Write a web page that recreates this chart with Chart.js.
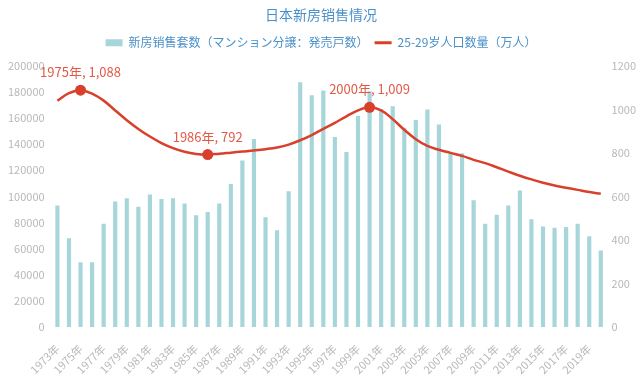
<!DOCTYPE html>
<html>
<head>
<meta charset="utf-8">
<script src="https://cdn.jsdelivr.net/npm/chart.js@4.4.1/dist/chart.umd.min.js"></script>
<style>
  body { margin: 0; background: #fff; }
  #wrap { width: 641px; height: 389px; }
</style>
</head>
<body>
<div id="wrap"><canvas id="myChart"></canvas></div>
<script>
const years = [];
for (let y = 1973; y <= 2020; y++) years.push(y + '年');

// 新房销售套数 (マンション分譲: 発売戸数)
const sales = [
  93000, 68000, 49500, 49500, 79000, 96000, 98500, 92000, 101500, 98000,
  98500, 94500, 85500, 88000, 94500, 109500, 127500, 144000, 84000, 74000,
  104000, 187500, 177500, 181000, 145500, 134000, 161500, 180500, 167000, 169000,
  152500, 158500, 166500, 155000, 134000, 133000, 97000, 79000, 86000, 93000,
  104500, 82500, 77000, 76000, 76500, 79000, 69500, 58500
];

// 25-29岁人口数量 (万人)
const population = [
  1040, 1074, 1088, 1072, 1040, 995, 950, 910, 875, 845,
  822, 805, 795, 792, 796, 801, 806, 811, 817, 825,
  838, 858, 882, 910, 938, 968, 995, 1009, 995, 955,
  906, 863, 832, 814, 800, 786, 768, 753, 734, 714,
  695, 678, 663, 650, 640, 630, 620, 612
];

const highlightYears = ['1975年', '1986年', '2000年'];

const barColor = '#a6d6da';
const lineColor = '#d9402c';
const textBlue = '#4a90c8';
const axisGray = '#b8b8b8';
const fontFamily = '"Noto Sans CJK SC", "Noto Sans", sans-serif';

// extra room under the legend
const legendSpacer = {
  id: 'legendSpacer',
  beforeInit(chart) {
    const fit = chart.legend.fit;
    chart.legend.fit = function () {
      fit.bind(chart.legend)();
      this.height += 7;
    };
  }
};

const pointLabels = {
  id: 'pointLabels',
  afterDatasetsDraw(chart) {
    const meta = chart.getDatasetMeta(1);
    const c = chart.ctx;
    c.save();
    c.font = '13px ' + fontFamily;
    c.fillStyle = '#e05a48';
    c.textAlign = 'center';
    c.textBaseline = 'middle';
    meta.data.forEach((pt, i) => {
      if (!highlightYears.includes(years[i])) return;
      const txt = years[i] + ', ' + population[i].toLocaleString('en-US');
      c.fillText(txt, pt.x, pt.y - 18);
    });
    c.restore();
  }
};

const ctx = document.getElementById('myChart').getContext('2d');
const myChart = new Chart(ctx, {
  type: 'bar',
  data: {
    labels: years,
    datasets: [
      {
        label: '新房销售套数（マンション分譲：発売戸数）',
        data: sales,
        backgroundColor: barColor,
        barPercentage: 0.36,
        categoryPercentage: 1,
        yAxisID: 'y',
        order: 1
      },
      {
        type: 'line',
        label: '25-29岁人口数量（万人）',
        data: population,
        borderColor: lineColor,
        backgroundColor: lineColor,
        borderWidth: 2.5,
        tension: 0.4,
        pointRadius: c => highlightYears.includes(years[c.dataIndex]) ? 5.5 : 0,
        pointBackgroundColor: lineColor,
        pointBorderWidth: 0,
        yAxisID: 'y1',
        order: 0
      }
    ]
  },
  plugins: [legendSpacer, pointLabels],
  options: {
    responsive: true,
    maintainAspectRatio: false,
    animation: false,
    layout: { padding: { left: 1, right: 0, top: 2, bottom: 0 } },
    plugins: {
      title: {
        display: true,
        text: '日本新房销售情况',
        color: textBlue,
        font: { family: fontFamily, size: 14, weight: 'normal' },
        padding: { top: 4, bottom: 8 }
      },
      legend: {
        display: true,
        position: 'top',
        labels: {
          usePointStyle: true,
          pointStyleWidth: 17,
          boxHeight: 7,
          padding: 6,
          color: textBlue,
          font: { family: fontFamily, size: 12 },
          generateLabels: chart => [
            {
              text: chart.data.datasets[0].label,
              fillStyle: barColor, strokeStyle: barColor, lineWidth: 0,
              pointStyle: 'rect', fontColor: textBlue, datasetIndex: 0
            },
            {
              text: chart.data.datasets[1].label,
              fillStyle: lineColor, strokeStyle: lineColor, lineWidth: 3,
              pointStyle: 'line', fontColor: textBlue, datasetIndex: 1
            }
          ]
        }
      },
      tooltip: { enabled: false }
    },
    scales: {
      x: {
        grid: { display: false, drawTicks: false },
        border: { display: false },
        afterFit: scale => {
          scale.paddingLeft = 0;
          scale.paddingRight = 0;
          scale.height = 62;
        },
        ticks: {
          autoSkip: false,
          maxRotation: 45,
          minRotation: 45,
          color: axisGray,
          font: { family: fontFamily, size: 11 },
          padding: 15,
          callback: (v, i) => i % 2 === 0 ? years[i] : ''
        }
      },
      y: {
        position: 'left',
        min: 0,
        max: 200000,
        grid: { display: false, drawTicks: false },
        border: { display: false },
        ticks: {
          stepSize: 20000,
          color: axisGray,
          font: { family: fontFamily, size: 11 },
          padding: 7,
          callback: v => String(v)
        }
      },
      y1: {
        position: 'right',
        min: 0,
        max: 1200,
        grid: { display: false, drawTicks: false },
        border: { display: false },
        ticks: {
          stepSize: 200,
          color: axisGray,
          font: { family: fontFamily, size: 11 },
          padding: 5,
          callback: v => String(v)
        }
      }
    }
  }
});
</script>
</body>
</html>
